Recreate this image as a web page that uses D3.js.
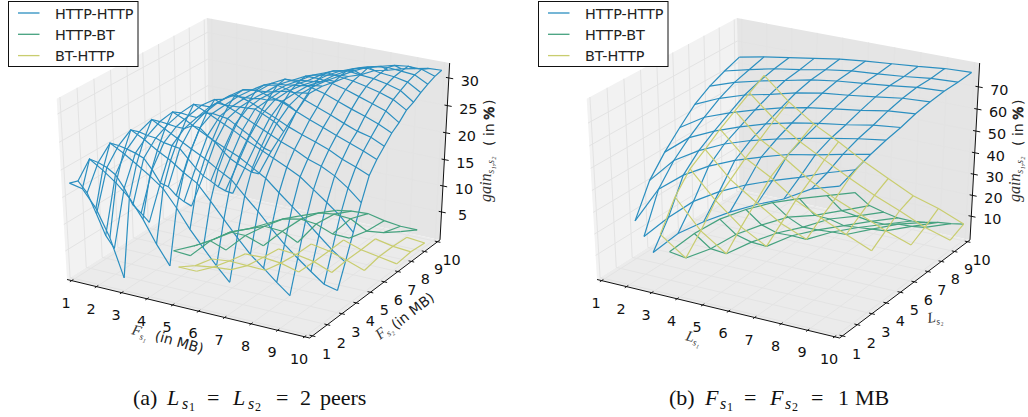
<!DOCTYPE html>
<html>
<head>
<meta charset="utf-8">
<script src="https://cdnjs.cloudflare.com/ajax/libs/d3/7.8.5/d3.min.js"></script>
<style>
  html, body { margin: 0; padding: 0; background: #fff; }
  svg { display: block; }
  .tick { font-family: "DejaVu Sans"; font-size: 14.4px; fill: #111; text-anchor: middle; }
  .lab { font-family: "DejaVu Sans"; font-size: 14px; fill: #222; }
  .math { font-family: "Liberation Serif"; font-style: italic; fill: #333; }
  .cap { font-family: "Liberation Serif"; font-size: 22px; fill: #111; }
</style>
</head>
<body>
<svg id="chart" width="1028" height="417"></svg>
<script>
var seriesNames = ["HTTP-HTTP", "HTTP-BT", "BT-HTTP"];
var seriesColors = ["#2b8fc0", "#45a27f", "#c9cd6f"];
var axisTicks = [1, 2, 3, 4, 5, 6, 7, 8, 9, 10];
var zTicksA = [5, 10, 15, 20, 25, 30];
var zTicksB = [10, 20, 30, 40, 50, 60, 70];

// panel (a), 0.5 MB steps, rows are F_s2 values, each row starts at an x index
var halfSteps = [1, 1.5, 2, 2.5, 3, 3.5, 4, 4.5, 5, 5.5, 6, 6.5, 7, 7.5, 8, 8.5, 9, 9.5, 10];
var aBlueStarts = [0, 0, 0, 0, 0, 0, 1, 1, 1, 2, 2, 2, 2, 3, 3, 3, 3, 4, 4];
var aBlue = [
  [17.5, 17, 13.9, 9, 2],
  [17, 21.5, 20, 18.2, 16, 12.6, 8.5, 5],
  [13.9, 20, 24, 22.7, 21.2, 19.6, 17.8, 14.8, 11.4, 8.5, 5.7, 3.2],
  [9, 18.2, 22.7, 26, 24.8, 23.3, 22, 20.3, 18.9, 16.2, 13.4, 10.6, 8, 6, 3.9, 2],
  [4, 16, 21.2, 24.8, 27.5, 26.3, 25, 23.7, 22.5, 21, 19.7, 17.3, 15, 12.4, 10, 8, 6.1, 4.3, 3.7],
  [0.5, 12.6, 19.6, 23.3, 26.3, 28.5, 27.5, 26.2, 25, 23.9, 22.9, 21.5, 20.1, 18, 16, 14, 11.8, 9.7, 8],
  [8.5, 17.8, 22, 25, 27.5, 29.5, 28.5, 27.4, 26.3, 25, 23.9, 22.8, 21.7, 20.5, 18.7, 16.9, 15, 12.5],
  [6, 14.8, 20.3, 23.7, 26.2, 28.5, 30, 29.2, 28.2, 27.1, 26, 24.9, 24, 22.8, 22, 20.8, 19.1, 17],
  [3.3, 11.4, 18.9, 22.5, 25, 27.4, 29.2, 30.5, 29.8, 28.8, 27.8, 26.7, 25.8, 25, 24.1, 22.9, 22, 21],
  [9.8, 17.5, 22.2, 25, 27.3, 29.1, 30.6, 31, 30.3, 29.7, 28.6, 27.6, 26.7, 25.8, 24.9, 24, 23],
  [7.2, 14.8, 21, 24.1, 26.1, 28.1, 29.7, 31.1, 31.5, 31, 29.9, 29, 28.1, 27.1, 26.2, 25.6, 24.5],
  [5.1, 12.1, 18.7, 22.8, 25.1, 27.1, 28.8, 30.6, 31.8, 31.7, 31.2, 30.6, 29.7, 28.8, 28, 27.1, 26],
  [3.3, 9.7, 16.6, 21.5, 24.1, 26.1, 27.8, 29.6, 30.8, 32, 32, 31.6, 31, 30.2, 29.4, 28.6, 27],
  [7.8, 14.1, 19.6, 23.1, 25.3, 27, 28.7, 30, 31.4, 32.3, 32, 31.7, 31.2, 30.6, 29.8, 28.4],
  [5.8, 11.8, 17.7, 22.1, 24.2, 26.3, 27.9, 29.1, 30.6, 31.8, 32.3, 32, 31.8, 31.3, 30.6, 29],
  [4.1, 9.9, 15.8, 20.4, 23.5, 25.5, 27, 28.2, 29.8, 31, 31.9, 32.4, 32, 31.8, 31.3, 29.9],
  [2.7, 8.2, 13.7, 18.7, 22.4, 24.4, 26.2, 27.4, 29, 30.3, 31.3, 31.9, 32.2, 32, 31.8, 30.6],
  [6.5, 11.7, 16.9, 20.8, 23.6, 25.4, 26.9, 28.2, 29.5, 30.6, 31.2, 31.8, 32.1, 32, 31.2],
  [5.3, 10.2, 14.5, 18.8, 22.7, 24.5, 25.8, 27.2, 28, 29.2, 29.7, 30.4, 30.9, 31.4, 31.5]
];

var aGreenX = [4.25, 4.9, 5.5, 6.2, 6.8, 7.45, 8.1, 8.75, 9.4];
var aGreenY = [2.15, 3.45, 4.75, 6.05, 7.35, 8.65, 9.95];
var aGreenStarts = [0, 0, 0, 0, 1, 2, 3];
var aGreen = [
  [6.3, 6.1],
  [4.7, 6.4, 5.3],
  [3.5, 5.6, 5.6, 4.4],
  [2.5, 3.8, 4.9, 4.7, 3.2],
  [2.4, 3.9, 4.6, 4.3, 3.1, 3],
  [2.1, 3.4, 3.8, 3.6, 1.9, 2.3, 3.2],
  [1.5, 2, 2.2, 1.5, 1.1, 1.1]
];

var aYellowX = [5.15, 5.84, 6.53, 7.22, 7.91, 8.6, 9.29, 9.98];
var aYellowY = [1, 2.05, 3.1, 4.15, 5.2, 6.25, 7.3, 8.35, 9.4];
var aYellowStarts = [0, 0, 0, 1, 2, 3, 4, 5, 6];
var aYellow = [
  [6.5, 6.5],
  [4.7, 5.2, 5.5],
  [3.9, 4.3, 4.2, 4.1],
  [3.6, 3.7, 3.4, 2.5],
  [3.3, 3, 2.4, 1.1],
  [3, 2.4, 1.4, 0.2],
  [2.5, 1.4, 0.8, 0.2],
  [1.5, 0.8, 0.5],
  [0.55, 0.2]
];

// panel (b), 1 peer steps
var peers = [1, 2, 3, 4, 5, 6, 7, 8, 9, 10];
var bBlueStarts = [2, 1, 0, 0, 0, 0, 0, 0, 0, 0];
var bBlue = [
  [16.5, 28, 36, 43, 49, 54, 61, 64.7],
  [16.5, 28, 38, 45, 50.5, 55, 59, 63.5, 67.3],
  [16.5, 33.9, 42.9, 49.5, 54.5, 58.5, 62.1, 64.4, 67.1, 69.6],
  [31, 42.7, 49.7, 55.1, 59.1, 62.2, 64.9, 67.3, 69.6, 71.4],
  [39.8, 48.9, 54.3, 58.6, 62.3, 65.2, 67.3, 69.1, 71.3, 72.7],
  [47, 54.1, 58.4, 62.1, 65.4, 67.8, 69.6, 71.3, 73.4, 74.5],
  [53.6, 58.7, 62.5, 65.1, 68.1, 70.2, 71.6, 73.2, 74.9, 75.6],
  [58, 62, 64.9, 67.4, 69.9, 71.7, 72.9, 74.2, 75.7, 76.3],
  [61.1, 64, 66.6, 68.4, 70.6, 72.3, 73.2, 74.3, 75.7, 76.3],
  [63.7, 66, 67.8, 69.7, 71.6, 72.9, 73.9, 74.9, 76.2, 76.7]
];
var bGreenY = [2, 3, 4, 5, 6, 7, 8, 9, 10];
var bGreenStarts = [2, 2, 3, 4, 5, 6, 7, 8, 9];
var bGreen = [
  [12.1, 23.3, 32.6, 39.6, 45.3, 49.7, 53.6, 57.5],
  [4.3, 11.5, 20.9, 28, 34.2, 37.7, 42.4, 47.3],
  [4.3, 12.6, 19.6, 25, 31.4, 35.4, 39.8],
  [5.8, 13.6, 19.1, 23.7, 28.4, 32.6],
  [7.2, 13.4, 18.2, 22.4, 26.6],
  [7.5, 12.8, 17.8, 21.3],
  [7.3, 12.1, 16.7],
  [7, 11.5],
  [6.6]
];
var bYellowY = [3, 4, 5, 6, 7, 8, 9, 10];
var bYellowStarts = [1, 1, 1, 1, 1, 1, 1, 1];
var bYellow = [
  [12.8, 4.3],
  [25.8, 12.5, 4.3],
  [34.5, 22.2, 12.4, 5.8],
  [39.3, 27.6, 19.6, 12.1, 7.2],
  [44.5, 33.4, 26.9, 18.5, 12.8, 7.5, 2.4],
  [48.9, 38, 31.4, 23.5, 17.3, 12.4, 7.3, 3.2],
  [53.2, 43.1, 35.3, 28.9, 22.8, 17.1, 12.3, 7, 3.5],
  [57.4, 47.3, 39.3, 33.2, 26.5, 20.7, 15, 11.5, 6.6]
];

var svg = d3.select("#chart");

// same camera as mplot3d: elev 30, azim -60, dist 10
var el = 30 * Math.PI / 180, az = -60 * Math.PI / 180, dist = 10;
var eye = [0.5 + dist * Math.cos(el) * Math.cos(az), 0.5 + dist * Math.cos(el) * Math.sin(az), 0.5 + dist * Math.sin(el)];
var nv = [Math.cos(el) * Math.cos(az), Math.cos(el) * Math.sin(az), Math.sin(el)];
var uv = [-nv[1], nv[0], 0];
var ul = Math.hypot(uv[0], uv[1]);
uv = [uv[0] / ul, uv[1] / ul, 0];
var vv = [nv[1] * uv[2] - nv[2] * uv[1], nv[2] * uv[0] - nv[0] * uv[2], nv[0] * uv[1] - nv[1] * uv[0]];

function dot(a, b) { return a[0] * b[0] + a[1] * b[1] + a[2] * b[2]; }

function camera(p) {
  var d = [p[0] - eye[0], p[1] - eye[1], p[2] - eye[2]];
  var w = -dot(nv, d);
  return [dot(uv, d) / w, dot(vv, d) / w];
}

var pad = 1 / 48;
var lo = -pad, hi = 1 + pad;

function toMatrix(xs, ys, starts, rows) {
  return ys.map(function(y, j) {
    return xs.map(function(x, i) {
      var k = i - starts[j];
      var z = (k >= 0 && k < rows[j].length) ? rows[j][k] : null;
      return {x: x, y: y, z: z};
    });
  });
}

function drawPanel(opt) {
  var g = svg.append("g");
  var xs = d3.scaleLinear().domain([1, 10]).range([0, 1]);
  var ys = d3.scaleLinear().domain([1, 10]).range([0, 1]);
  var zs = d3.scaleLinear().domain(opt.zDomain).range([0, 1]);

  // fit the camera plane to the pixels of the box
  var sx = d3.scaleLinear()
    .domain([camera([lo, lo, lo])[0], camera([hi, hi, lo])[0]])
    .range([opt.left, opt.left + 373]);
  var sy = d3.scaleLinear()
    .domain([camera([hi, lo, lo])[1], camera([lo, hi, hi])[1]])
    .range([338, 18]);

  function pix(p) {
    var c = camera(p);
    return [sx(c[0]), sy(c[1])];
  }
  var poly = function(pts) { return pts.map(function(p) { return pix(p).join(","); }).join(" "); };
  var seg = function(a, b, color, w) {
    var p = pix(a), q = pix(b);
    g.append("line").attr("x1", p[0]).attr("y1", p[1]).attr("x2", q[0]).attr("y2", q[1])
      .attr("stroke", color).attr("stroke-width", w);
  };

  // panes
  g.append("polygon").attr("points", poly([[lo, lo, lo], [lo, hi, lo], [lo, hi, hi], [lo, lo, hi]])).attr("fill", "#f2f2f2");
  g.append("polygon").attr("points", poly([[lo, hi, lo], [hi, hi, lo], [hi, hi, hi], [lo, hi, hi]])).attr("fill", "#e5e5e5");
  g.append("polygon").attr("points", poly([[lo, lo, lo], [hi, lo, lo], [hi, hi, lo], [lo, hi, lo]])).attr("fill", "#ebebeb");

  // grid
  var gridColor = "#e3e3e3";
  axisTicks.forEach(function(t) {
    var u = xs(t);
    seg([u, lo, lo], [u, hi, lo], gridColor, 1);
    seg([u, hi, lo], [u, hi, hi], gridColor, 1);
    var v = ys(t);
    seg([lo, v, lo], [hi, v, lo], gridColor, 1);
    seg([lo, v, lo], [lo, v, hi], gridColor, 1);
  });
  opt.zTicks.forEach(function(t) {
    var w = zs(t);
    seg([lo, lo, w], [lo, hi, w], gridColor, 1);
    seg([lo, hi, w], [hi, hi, w], gridColor, 1);
  });

  // axes and ticks
  seg([lo, lo, lo], [hi, lo, lo], "#111", 1);
  seg([hi, lo, lo], [hi, hi, lo], "#111", 1);
  seg([hi, hi, lo], [hi, hi, hi], "#111", 1);

  axisTicks.forEach(function(t) {
    var u = xs(t);
    seg([u, lo - 0.012, lo], [u, lo + 0.012, lo], "#111", 1);
    var p = pix([u, lo, lo]);
    g.append("text").attr("class", "tick").attr("x", p[0] - 5.5).attr("y", p[1] + 27).text(t);
    var v = ys(t);
    seg([hi - 0.012, v, lo], [hi + 0.012, v, lo], "#111", 1);
    var q = pix([hi, v, lo]);
    g.append("text").attr("class", "tick").attr("x", q[0] + 14).attr("y", q[1] + 23).text(t);
  });
  opt.zTicks.forEach(function(t) {
    var w = zs(t);
    seg([hi - 0.012, hi, w], [hi + 0.018, hi, w], "#111", 1);
    var p = pix([hi, hi, w]);
    g.append("text").attr("class", "tick").attr("x", p[0] + 21).attr("y", p[1] + 8).text(t);
  });

  // wireframes
  var line = d3.line()
    .defined(function(d) { return d.z !== null; })
    .x(function(d) { return pix([xs(d.x), ys(d.y), zs(d.z)])[0]; })
    .y(function(d) { return pix([xs(d.x), ys(d.y), zs(d.z)])[1]; });

  opt.surfaces.forEach(function(s, n) {
    var mat = toMatrix(s.x, s.y, s.starts, s.rows);
    mat.forEach(function(row) {
      g.append("path").attr("d", line(row)).attr("fill", "none")
        .attr("stroke", seriesColors[n]).attr("stroke-width", 1.2);
    });
    s.x.forEach(function(x, i) {
      var col = mat.map(function(row) { return row[i]; });
      g.append("path").attr("d", line(col)).attr("fill", "none")
        .attr("stroke", seriesColors[n]).attr("stroke-width", 1.2);
    });
  });

  // legend
  var lx = opt.legendX;
  g.append("rect").attr("x", lx + 0.5).attr("y", 1.5).attr("width", 129.5).attr("height", 65)
    .attr("fill", "#fff").attr("stroke", "#111").attr("stroke-width", 1);
  seriesNames.forEach(function(name, i) {
    var y = 13 + i * 21.3;
    g.append("line").attr("x1", lx + 10).attr("x2", lx + 31.5).attr("y1", y).attr("y2", y)
      .attr("stroke", seriesColors[i]).attr("stroke-width", 1.3);
    g.append("text").attr("class", "lab").style("font-size", "14.4px").attr("x", lx + 47).attr("y", y + 5.5).text(name);
  });

  opt.labels(g);
}

function mathText(g, x, y, rot, base, sub, size) {
  var t = g.append("text").attr("class", "math").attr("transform", "translate(" + x + "," + y + ") rotate(" + rot + ")")
    .style("font-size", size + "px");
  t.append("tspan").text(base);
  t.append("tspan").attr("dy", 3).style("font-size", (size * 0.62) + "px").text(sub);
}

function zLabel(g, x) {
  mathText(g, x, 202, -90, "gain", "s\u2081,s\u2082", 16);
  g.append("text").attr("class", "lab").attr("transform", "translate(" + (x + 3) + ",146) rotate(-90)").text("( in");
  g.append("text").attr("class", "lab").attr("transform", "translate(" + (x + 3) + ",120) rotate(-90)")
    .attr("stroke", "#222").attr("stroke-width", 0.7).text("%");
  g.append("text").attr("class", "lab").attr("transform", "translate(" + (x + 3) + ",105) rotate(-90)").text(")");
}

// caption pieces sit at fixed x because math spacing is wider than plain text
function caption(g, parts) {
  parts.forEach(function(p) {
    var t = g.append("text").attr("class", "cap").attr("x", p[0]).attr("y", 405);
    if (p[2] === "m") t.style("font-style", "italic");
    t.text(p[1]);
    if (p[3]) {
      g.append("text").attr("class", "cap").attr("x", p[0] + 15).attr("y", 409).style("font-size", "16px").style("font-style", "italic").text("s");
      g.append("text").attr("class", "cap").attr("x", p[0] + 22).attr("y", 411).style("font-size", "12px").text(p[3]);
    }
  });
}

drawPanel({
  left: 67,
  legendX: 8,
  zDomain: [0.2, 32],
  zTicks: zTicksA,
  surfaces: [
    {x: halfSteps, y: halfSteps, starts: aBlueStarts, rows: aBlue},
    {x: aGreenX, y: aGreenY, starts: aGreenStarts, rows: aGreen},
    {x: aYellowX, y: aYellowY, starts: aYellowStarts, rows: aYellow}
  ],
  labels: function(g) {
    mathText(g, 131, 334, 15, "F", "s\u2081", 15);
    g.append("text").attr("class", "lab").attr("transform", "translate(154,340) rotate(16)").text("(in MB)");
    mathText(g, 380, 340, -38, "F", "s\u2082", 15);
    g.append("text").attr("class", "lab").attr("transform", "translate(396,330) rotate(-38)").text("(in MB)");
    zLabel(g, 491);
    caption(g, [[133, "(a)"], [167, "L", "m", "1"], [207, "="], [233, "L", "m", "2"], [276, "="], [300, "2"], [320, "peers"]]);
  }
});

drawPanel({
  left: 597,
  legendX: 538,
  zDomain: [0.2, 78.9],
  zTicks: zTicksB,
  surfaces: [
    {x: peers, y: peers, starts: bBlueStarts, rows: bBlue},
    {x: peers, y: bGreenY, starts: bGreenStarts, rows: bGreen},
    {x: peers, y: bYellowY, starts: bYellowStarts, rows: bYellow}
  ],
  labels: function(g) {
    mathText(g, 685, 340, 15, "L", "s\u2081", 15);
    mathText(g, 928, 323, -8, "L", "s\u2082", 15);
    zLabel(g, 1020);
    caption(g, [[669, "(b)"], [705, "F", "m", "1"], [744, "="], [770, "F", "m", "2"], [811, "="], [838, "1"], [855, "MB"]]);
  }
});
</script>
</body>
</html>
